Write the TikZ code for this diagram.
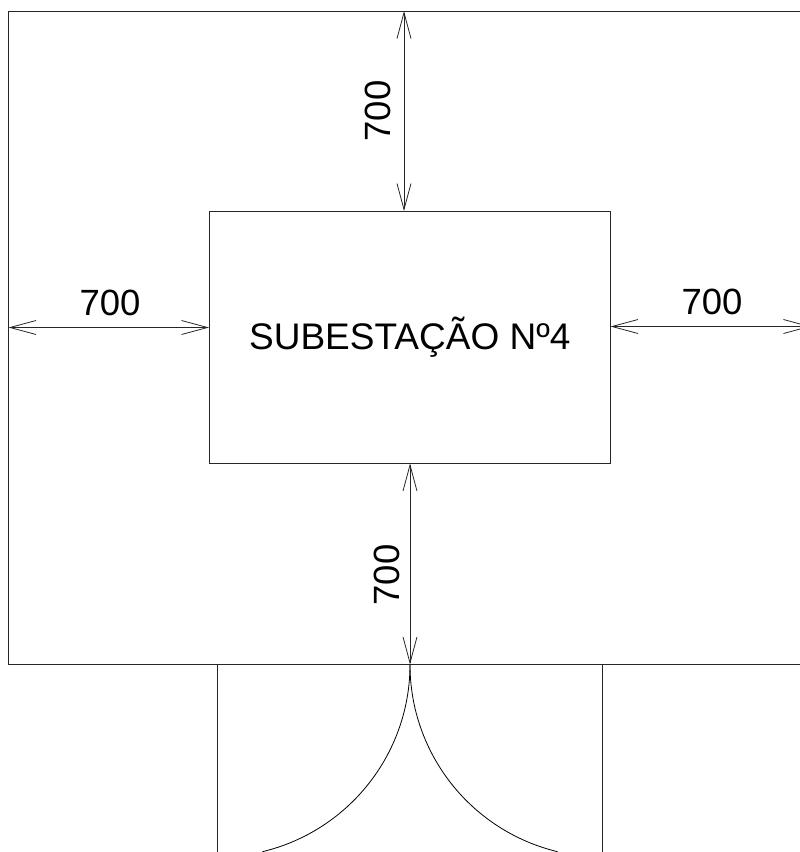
\documentclass[tikz,border=0pt]{standalone}
\usepackage{fontspec}
\setmainfont{Liberation Sans}
\usetikzlibrary{arrows.meta}
\tikzset{
  wall/.style={line width=0.9pt,black!85},
  dimline/.style={line width=1pt,black!85,{Straight Barb[length=26pt,width=14pt,line width=0.8pt]}-{Straight Barb[length=26pt,width=14pt,line width=0.8pt]}},
  dimtext/.style={inner sep=0pt,text=black,font=\fontsize{36.5}{40}\selectfont},
  roomnode/.style={draw,wall,text=black,minimum width=400.5pt,minimum height=251.5pt,inner sep=0pt,font=\fontsize{37}{40}\selectfont}
}
\begin{document}
\begin{tikzpicture}[x=1pt,y=-1pt]
  % Configurable parameters
  \def\doorradius{192.5}
  \def\doorangle{76.5}
  %
  \useasboundingbox (0,0) rectangle (800,852);
  \clip (0,0) rectangle (800,851);
  %
  % Outer wall
  \draw[wall] (810,11) -- (8.5,11) -- (8.5,664.5) -- (810,664.5);
  %
  % Substation
  \node[roomnode] (subest) at (409.75,337.25) {SUBESTAÇÃO Nº4};
  \draw[wall] (310,463.2) -- (510,463.2);
  %
  % Free ends of the dimensions
  \coordinate (topwall) at (404,11);
  \coordinate (leftwall) at (8.5,327.5);
  \coordinate (rightend) at (811,326.5);
  \coordinate (doorpoint) at (410,664.5);
  %
  % Dimensions
  \draw[dimline] (topwall) -- (topwall |- subest.north);
  \draw[dimline] (leftwall) -- (leftwall -| subest.west);
  \draw[dimline] (rightend -| subest.east) -- (rightend);
  \draw[dimline] (doorpoint |- subest.south) -- (doorpoint);
  %
  % Dimension values
  \node[dimtext,rotate=90] (toptext) at (378,111) {700};
  \node[dimtext] (lefttext) at (110,303) {700};
  \node[dimtext] (righttext) at (712,302) {700};
  \node[dimtext,rotate=90] (bottomtext) at (387,575) {700};
  %
  % Door jambs
  \coordinate (leftjamb) at (217.5,664.5);
  \coordinate (rightjamb) at (602.5,664.5);
  \draw[wall] (leftjamb) -- (217.5,860);
  \draw[wall] (rightjamb) -- (602.5,860);
  %
  % Door leaves
  \draw[line width=0.8pt] (doorpoint) arc (0:\doorangle:\doorradius);
  \draw[line width=0.8pt] (doorpoint) arc (180:180-\doorangle:\doorradius);
  %
\end{tikzpicture}
\end{document}
